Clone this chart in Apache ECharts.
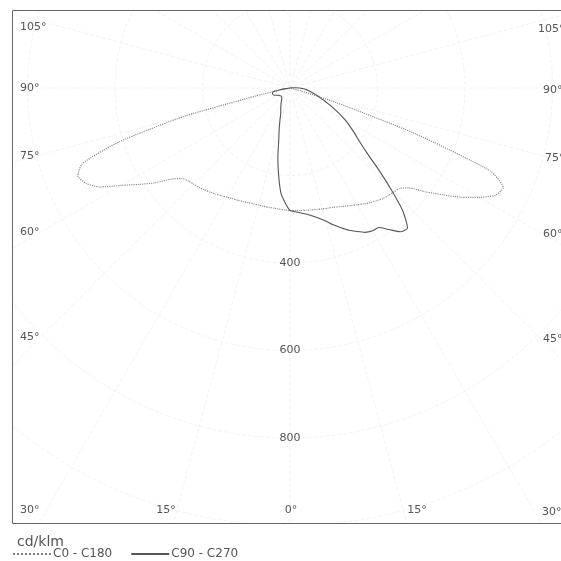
<!DOCTYPE html>
<html>
<head>
<meta charset="utf-8">
<script src="https://cdn.jsdelivr.net/npm/echarts@6/dist/echarts.min.js"></script>
<style>
html,body{margin:0;padding:0;background:#fff;}
#chart{width:561px;height:561px;}
</style>
</head>
<body>
<div id="chart"></div>
<script>
// gamma angles (degrees from nadir)
const gamma = [0,2.5,5,7.5,10,12.5,15,17.5,20,22.5,25,27.5,30,32.5,35,37.5,40,42.5,45,47.5,50,52.5,55,57.5,60,62.5,65,67.5,70,72.5,75,77.5,80,82.5,85,87.5,90,92.5,95,97.5,100];
// intensities cd/klm
const c0   = [280,280,281,282,283,284,286,288,290,294,298,303,308,314,320,325,330,333,336,340,355,390,425,465,500,530,538,495,300,110,25,0,0,0,0,0,0,0,0,0,0];
const c180 = [280,279,278,277,277,277,277,278,279,281,283,285,288,292,296,300,304,308,311,315,322,342,378,410,445,490,515,525,505,410,250,60,0,0,0,0,0,0,0,0,0];
const c90  = [280,283,287,291,297,305,315,328,340,352,362,372,377,378,395,414,418,382,325,272,228,200,180,162,145,127,110,95,82,71,62,55,48,42,36,29,22,12,5,0,0];
const c270 = [280,262,240,200,160,118,95,76,62,55,50,45,41,37,34,31,29,28,27,27,28,29,30,31,33,36,39,41,42,42,41,39,23,11,0,0,0,0,0,0,0];
const seriesNames = ['C0 - C180','C90 - C270'];
const radiusTicks = ['400','600','800'];
const sideLabels = ['105°','90°','75°','60°','45°','30°'];
const bottomLabels = ['15°','0°','15°'];
const unitLabel = 'cd/klm';

function buildCurve(leftVals, rightVals){
  const out = [];
  for (let i = gamma.length - 1; i >= 0; i--) out.push([leftVals[i], 360 - gamma[i]]);
  for (let i = 0; i < gamma.length; i++) out.push([rightVals[i], gamma[i]]);
  return out;
}

const CX = 290, CY = 88, RMAX = 1200, PX = 0.4375;
const textColor = '#555';
const FAMILY = '"DejaVu Sans", Verdana, sans-serif';
const font11 = '11px ' + FAMILY;

// label layout (screen positions of the edge labels)
const sideY = [27, 88, 156, 232, 337, 510];
const rightX = [538, 543, 545, 543, 543, 542];
const bottomX = [166, 291, 417];

const graphics = [
  {type:'rect', z:1, silent:true, shape:{x:0,y:0,width:561,height:10}, style:{fill:'#fff'}},
  {type:'rect', z:1, silent:true, shape:{x:0,y:524,width:561,height:37}, style:{fill:'#fff'}},
  {type:'rect', z:1, silent:true, shape:{x:0,y:0,width:12,height:561}, style:{fill:'#fff'}},
  {type:'rect', z:3, silent:true, shape:{x:12.5,y:10.5,width:600,height:513}, style:{fill:null, stroke:'#666', lineWidth:1}}
];
sideLabels.forEach((t,i)=>{
  graphics.push({type:'text', z:3, x:20, y:sideY[i], style:{text:t, fill:textColor, font:font11, verticalAlign:'middle', align:'left'}});
  graphics.push({type:'text', z:3, x:rightX[i], y:sideY[i]+2, style:{text:t, fill:textColor, font:font11, verticalAlign:'middle', align:'left'}});
});
bottomLabels.forEach((t,i)=>{
  graphics.push({type:'text', z:3, x:bottomX[i], y:510, style:{text:t, fill:textColor, font:font11, verticalAlign:'middle', align:'center'}});
});

const chart = echarts.init(document.getElementById('chart'), null, {renderer:'canvas'});
chart.setOption({
  animation:false,
  backgroundColor:'#fff',
  title:{text:unitLabel, left:12, top:530, textStyle:{fontSize:14, fontWeight:'normal', color:textColor, fontFamily:FAMILY}},
  legend:{
    data:seriesNames, left:7, top:543, itemWidth:38, itemHeight:10, itemGap:18,
    itemStyle:{opacity:0},
    textStyle:{fontSize:12, color:textColor, fontFamily:FAMILY, padding:[0,0,0,-3]}
  },
  polar:{center:[CX, CY], radius: RMAX*PX},
  angleAxis:{
    type:'value', min:0, max:360, interval:15, startAngle:270, clockwise:false,
    axisLine:{show:false}, axisTick:{show:false}, axisLabel:{show:false},
    splitLine:{show:true, lineStyle:{color:'#f3f3f3', type:'dashed', width:1}}
  },
  radiusAxis:{
    type:'value', min:0, max:RMAX, interval:200,
    axisLine:{show:false}, axisTick:{show:false},
    axisLabel:{
      show:true, margin:0, align:'center', verticalAlign:'middle', color:textColor, fontSize:11,
      fontFamily:FAMILY,
      formatter:function(v){ return radiusTicks.indexOf(String(v))>=0 ? String(v) : ''; }
    },
    splitLine:{show:true, lineStyle:{color:'#f3f3f3', type:'dashed', width:1}}
  },
  graphic:graphics,
  series:[
    {name:seriesNames[0], type:'line', coordinateSystem:'polar', symbol:'none', showSymbol:false, smooth:0.2,
     data:buildCurve(c180, c0), lineStyle:{type:'dotted', width:1.1, color:'#808080'}, itemStyle:{color:'#808080'}, z:2},
    {name:seriesNames[1], type:'line', coordinateSystem:'polar', symbol:'none', showSymbol:false, smooth:0.2,
     data:buildCurve(c270, c90), lineStyle:{type:'solid', width:1.1, color:'#555'}, itemStyle:{color:'#555'}, z:2}
  ]
});
</script>
</body>
</html>
